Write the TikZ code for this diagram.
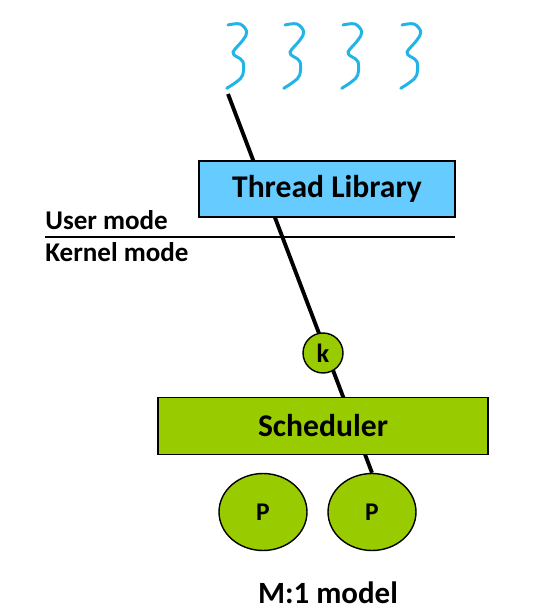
\documentclass[tikz,border=0pt]{standalone}
\usepackage{fontspec}
\setmainfont{Carlito}
\usepackage{xcolor}
\usetikzlibrary{shapes.geometric,backgrounds}
\definecolor{libblue}{HTML}{66CCFF}
\definecolor{schedgreen}{HTML}{99CC00}
\definecolor{thrblue}{HTML}{22B4E6}

\begin{document}
\begin{tikzpicture}[
    x=0.02cm, y=-0.02cm,
    font=\bfseries,
    lib/.style={draw, line width=0.8pt, fill=libblue, minimum width=5.12cm, minimum height=1.12cm, font=\fontsize{18}{20}\bfseries\selectfont},
    sched/.style={draw, line width=0.8pt, fill=schedgreen, minimum width=6.6cm, minimum height=1.14cm, font=\fontsize{18}{20}\bfseries\selectfont},
    kthr/.style={draw, line width=0.8pt, fill=schedgreen, circle, minimum size=0.8cm, inner sep=0pt, font=\fontsize{15}{16}\bfseries\selectfont},
    proc/.style={draw, line width=0.8pt, fill=schedgreen, ellipse, minimum width=1.76cm, minimum height=1.54cm, inner sep=0pt, font=\fontsize{14.5}{16}\bfseries\selectfont},
    modetxt/.style={anchor=base west, inner sep=0pt, font=\fontsize{15.4}{17}\bfseries\selectfont},
    thr/.style={thrblue, line width=1.7pt, line cap=round, line join=round},
    wire/.style={line width=2.2pt},
  ]
    \useasboundingbox (0,0) rectangle (560,614);
    % user threads
    \foreach \dx in {0,57,115,174} {
      \draw[thr, shift={(228+\dx,25)}] plot[smooth, tension=0.6] coordinates
        {(0,0) (12,-1) (18.7,6.7) (15,15) (5,27) (8.7,31.7) (15,36.7) (14.7,50) (8.7,56.7) (-1.3,63.3)};
    }
    \coordinate (t1) at (228,94);
    \node[lib] (lib) at (327,189) {Thread Library};
    \node[modetxt] (user) at (45,230) {User mode};
    \node[modetxt] (kern) at (45,262) {Kernel mode};
    \coordinate (ml) at (45,237);
    \coordinate (mr) at (455,237);
    \draw[line width=0.6pt] (ml) -- (mr);
    \node[kthr] (k) at (323,353) {k};
    \node[sched] (sched) at (323,426) {Scheduler};
    \node[proc] (p1) at (263,512) {P};
    \node[proc] (p2) at (372,512) {P};
    \node[anchor=base, inner sep=0pt, font=\fontsize{17.6}{20}\bfseries\selectfont] (cap) at (328,603) {M:1 model};
    \begin{scope}[on background layer]
      \draw[wire] (t1) -- (p2.north);
    \end{scope}
  \end{tikzpicture}
\end{document}
